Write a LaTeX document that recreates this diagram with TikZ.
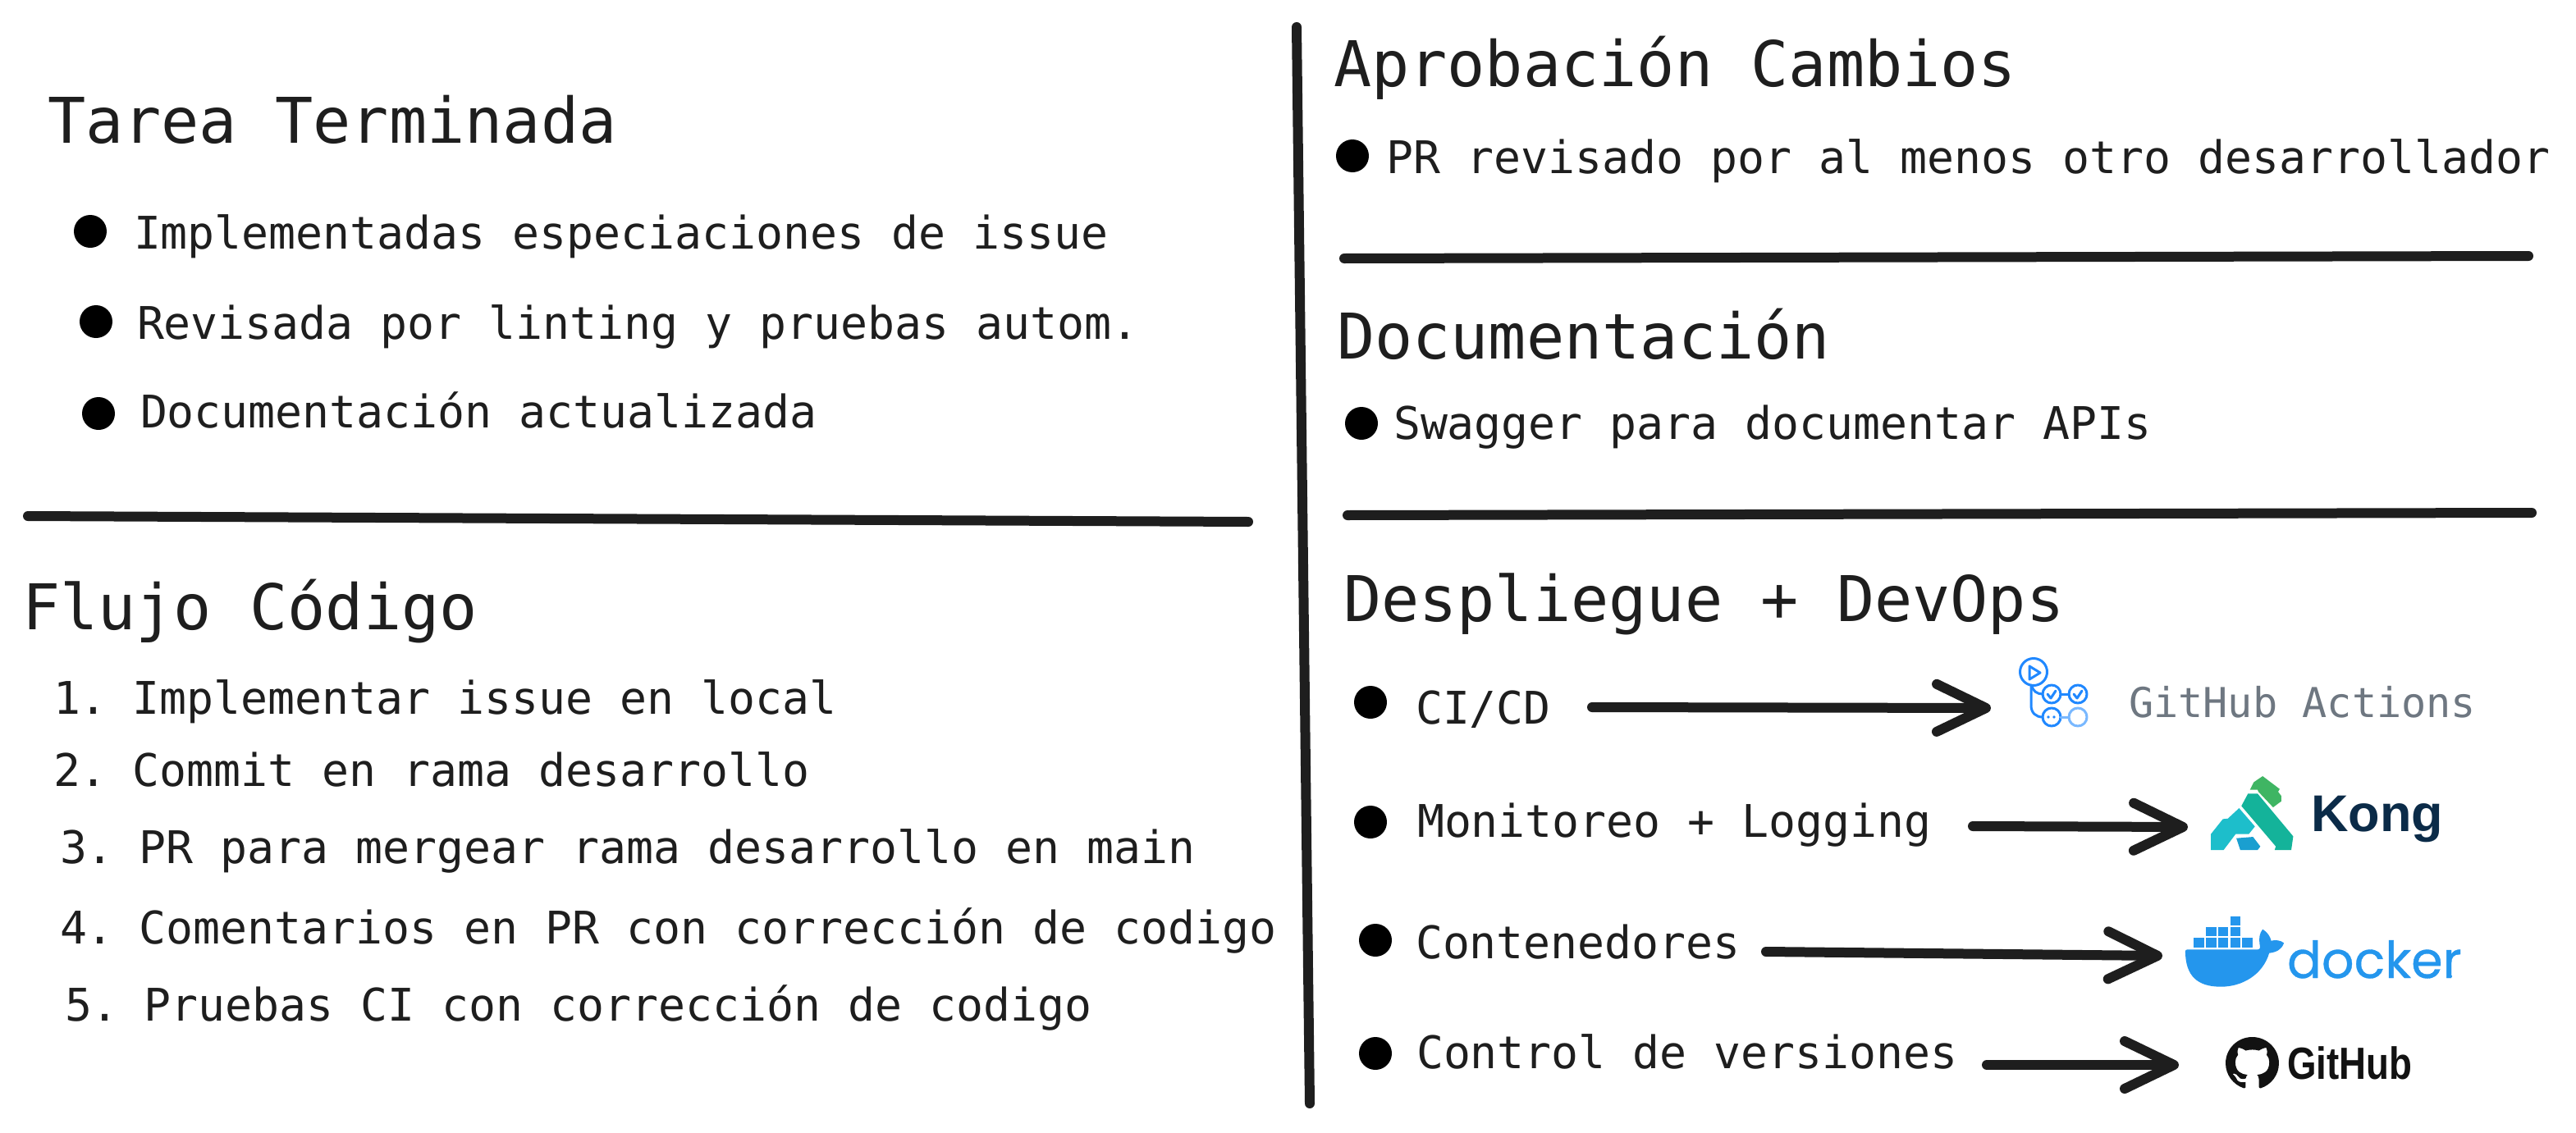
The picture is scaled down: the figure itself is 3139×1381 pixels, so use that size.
\documentclass[tikz,border=0pt]{standalone}
\usepackage{fontspec}
\usepackage{graphicx}
\usetikzlibrary{arrows.meta}
\setmainfont{DejaVu Sans Mono}
\newfontfamily\lsans{Liberation Sans}
\newfontfamily\popp[FakeBold=0.6]{Poppins}
\definecolor{ink}{HTML}{1E1E1E}
\definecolor{ghblue}{HTML}{2088FF}
\definecolor{ghlight}{HTML}{79B8FF}
\definecolor{ghgrey}{HTML}{6E7781}
\definecolor{dockblue}{HTML}{2496ED}
\definecolor{konggreen}{HTML}{3FB563}
\definecolor{kongteal}{HTML}{14B39A}
\definecolor{kongcyan}{HTML}{1DBECB}
\definecolor{kongblue}{HTML}{1A9FD0}
\definecolor{kongnavy}{HTML}{0B2B48}
\newcommand{\numgap}{\hspace*{-1pt}}
\tikzset{
 txt/.style={anchor=base west,inner sep=0pt,outer sep=0pt,text=ink},
 titletxt/.style={txt,font=\fontsize{38.4}{44}\selectfont},
 bodytxt/.style={txt,font=\fontsize{27.4}{32}\selectfont},
 dot/.style={fill=black,draw=none},
 rule/.style={draw=ink,line width=6pt,line cap=round},
 arrowline/.style={draw=ink,line width=6pt,line cap=round,-{Straight Barb[length=30pt,width=29pt,round,line width=6pt]}},
 ghring/.style={draw=ghblue,line width=1.5pt,line cap=round,line join=round},
}
\begin{document}
\begin{tikzpicture}[x=0.5pt,y=-0.5pt]
\useasboundingbox (0,0) rectangle (3139,1381);
% rules
\coordinate (v1) at (1580,33); \coordinate (v2) at (1596,1345);
\coordinate (l1) at (34,629); \coordinate (l2) at (1521,636);
\coordinate (r1a) at (1638,315); \coordinate (r1b) at (3081,312);
\coordinate (r2a) at (1642,628); \coordinate (r2b) at (3085,625);
\draw[rule] (v1) -- (v2);
\draw[rule] (l1) -- (l2);
\draw[rule] (r1a) -- (r1b);
\draw[rule] (r2a) -- (r2b);
% left top
\node[titletxt] (t1) at (58,174) {Tarea Terminada};
\fill[dot] (110,282) circle (20);
\node[bodytxt] (a1) at (163,303) {Implementadas especiaciones de issue};
\fill[dot] (117,392) circle (20);
\node[bodytxt] (a2) at (167,413) {Revisada por linting y pruebas autom.};
\fill[dot] (120,504) circle (20);
\node[bodytxt] (a3) at (171,521) {Documentación actualizada};
% left bottom
\node[titletxt] (t2) at (27,767) {Flujo Código};
\node[bodytxt] (b1) at (65,870) {1.\numgap{} Implementar issue en local};
\node[bodytxt] (b2) at (65,958) {2.\numgap{} Commit en rama desarrollo};
\node[bodytxt] (b3) at (73,1052) {3.\numgap{} PR para mergear rama desarrollo en main};
\node[bodytxt] (b4) at (73,1150) {4.\numgap{} Comentarios en PR con corrección de codigo};
\node[bodytxt] (b5) at (79,1244) {5.\numgap{} Pruebas CI con corrección de codigo};
% right
\node[titletxt] (t3) at (1625,105) {Aprobación Cambios};
\fill[dot] (1648,190) circle (20);
\node[bodytxt] (c1) at (1689,211) {PR revisado por al menos otro desarrollador};
\node[titletxt] (t4) at (1629,437) {Documentación};
\fill[dot] (1659,516) circle (20);
\node[bodytxt] (d1) at (1698,535) {Swagger para documentar APIs};
\node[titletxt] (t5) at (1637,757) {Despliegue + DevOps};
\fill[dot] (1670,856) circle (20);
\node[bodytxt] (e1) at (1725,882) {CI/CD};
\fill[dot] (1670,1002) circle (20);
\node[bodytxt] (e2) at (1727,1020) {Monitoreo + Logging};
\fill[dot] (1676,1146) circle (20);
\node[bodytxt] (e3) at (1725,1168) {Contenedores};
\fill[dot] (1676,1284) circle (20);
\node[bodytxt] (e4) at (1726,1302) {Control de versiones};
% arrows
\coordinate (s1) at (1940,862); \coordinate (h1) at (2426,863);
\coordinate (s2) at (2404,1007); \coordinate (h2) at (2666,1008);
\coordinate (s3) at (2152,1160); \coordinate (h3) at (2635,1165);
\coordinate (s4) at (2421,1298); \coordinate (h4) at (2655,1298);
\draw[arrowline] (s1) -- (h1);
\draw[arrowline] (s2) -- (h2);
\draw[arrowline] (s3) -- (h3);
\draw[arrowline] (s4) -- (h4);
% GitHub Actions logo
\draw[ghring] (2478,819) circle (16.5);
\draw[ghring] (2473,812) -- (2473,828) -- (2486,820) -- cycle;
\draw[ghring] (2500,846) circle (11);
\draw[ghring] (2532,846) circle (11);
\draw[ghring] (2500,874) circle (11);
\draw[ghring,draw=ghlight] (2532,874) circle (11);
\draw[ghring] (2475,835) -- (2475,860) .. controls (2475,869) and (2481,874) .. (2489,874);
\draw[ghring] (2476,836) .. controls (2477,842) and (2482,846) .. (2489,846);
\draw[ghring] (2511,846) -- (2521,846);
\draw[ghring,draw=ghlight] (2511,874) -- (2520,874);
\draw[ghring] (2495,846) -- (2499,851) -- (2505,842);
\draw[ghring] (2527,846) -- (2531,851) -- (2537,842);
\fill[ghblue] (2496,874) circle (1.8);
\fill[ghblue] (2503,874) circle (1.8);
\node[txt,text=ghgrey,font=\fontsize{25.1}{30}\selectfont] (ghact) at (2594,874) {GitHub Actions};
% Kong logo, in crop coordinates
\begin{scope}[shift={(2400,770)},x=0.2356pt,y=-0.1667pt]
\fill[konggreen] (725,578) -- (735,550) -- (758,528) -- (802,575) -- (798,585) -- (806,600) -- (806,620) -- (785,642) -- (747,585) -- (745,578) -- cycle;
\fill[kongteal] (720,592) -- (745,592) -- (837,748) -- (832,798) -- (789,798) -- (792,785) -- (703,637) -- cycle;
\fill[kongcyan] (697,645) -- (738,712) -- (722,740) -- (688,740) -- (657,798) -- (624,798) -- (624,740) -- (655,685) -- (668,683) -- cycle;
\fill[kongblue] (690,755) -- (733,750) -- (752,785) -- (745,798) -- (700,798) -- cycle;
\end{scope}
\node[txt,text=kongnavy,font=\lsans\bfseries\fontsize{31.5}{36}\selectfont] (kong) at (2816,1013) {Kong};
% Docker logo, in crop coordinates
\begin{scope}[shift={(2400,1060)},x=0.2356pt,y=-0.1667pt]
\foreach \xa in {580,611,642,674,705} \fill[dockblue] (\xa,250) rectangle ++(27,35);
\foreach \xa in {611,642,674} \fill[dockblue] (\xa,210) rectangle ++(27,33);
\fill[dockblue] (674,172) rectangle ++(27,33);
\fill[dockblue] (558,297) .. controls (558,292) and (562,292) .. (566,292) -- (745,292) .. controls (752,292) and (752,285) .. (750,270) .. controls (748,250) and (750,232) .. (758,218) .. controls (770,228) and (778,245) .. (780,260) .. controls (790,256) and (805,258) .. (813,268) .. controls (808,290) and (795,302) .. (775,305) .. controls (758,385) and (705,428) .. (650,428) .. controls (590,428) and (558,390) .. (558,297) -- cycle;
\fill[dockblue] (1243,390) circle (5);
\end{scope}
\node[txt,text=dockblue,font=\popp\fontsize{31}{36}\selectfont] (docker) at (2787,1192) {docker};
% GitHub mark
\begin{scope}[shift={(2712,1264)},x=2.03pt,y=-2pt]
\fill[black!93] (8,0) .. controls (3.58,0) and (0,3.58) .. (0,8) .. controls (0,11.54) and (2.29,14.53) .. (5.47,15.59) .. controls (5.87,15.66) and (6.02,15.42) .. (6.02,15.21) .. controls (6.02,15.02) and (6.01,14.39) .. (6.01,13.72) .. controls (4,14.09) and (3.48,13.23) .. (3.32,12.78) .. controls (3.23,12.55) and (2.84,11.84) .. (2.5,11.65) .. controls (2.22,11.5) and (1.82,11.13) .. (2.49,11.12) .. controls (3.12,11.11) and (3.57,11.7) .. (3.72,11.94) .. controls (4.44,13.15) and (5.59,12.81) .. (6.05,12.6) .. controls (6.12,12.08) and (6.33,11.73) .. (6.56,11.53) .. controls (4.78,11.33) and (2.92,10.64) .. (2.92,7.58) .. controls (2.92,6.71) and (3.23,5.99) .. (3.74,5.43) .. controls (3.66,5.23) and (3.38,4.41) .. (3.82,3.31) .. controls (3.82,3.31) and (4.49,3.1) .. (6.02,4.13) .. controls (6.66,3.95) and (7.34,3.86) .. (8.02,3.86) .. controls (8.7,3.86) and (9.38,3.95) .. (10.02,4.13) .. controls (11.55,3.09) and (12.22,3.31) .. (12.22,3.31) .. controls (12.66,4.41) and (12.38,5.23) .. (12.3,5.43) .. controls (12.81,5.99) and (13.12,6.7) .. (13.12,7.58) .. controls (13.12,10.65) and (11.25,11.33) .. (9.47,11.53) .. controls (9.76,11.78) and (10.01,12.26) .. (10.01,13.01) .. controls (10.01,14.08) and (10,14.94) .. (10,15.21) .. controls (10,15.42) and (10.15,15.67) .. (10.55,15.59) .. controls (13.73,14.53) and (16,11.54) .. (16,8) .. controls (16,3.58) and (12.42,0) .. (8,0) -- cycle;
\end{scope}
\node[txt,text=black!93,font=\lsans\bfseries\fontsize{27.5}{30}\selectfont] (gh) at (2787,1315) {\scalebox{.83}[1]{GitHub}};
\end{tikzpicture}
\end{document}
